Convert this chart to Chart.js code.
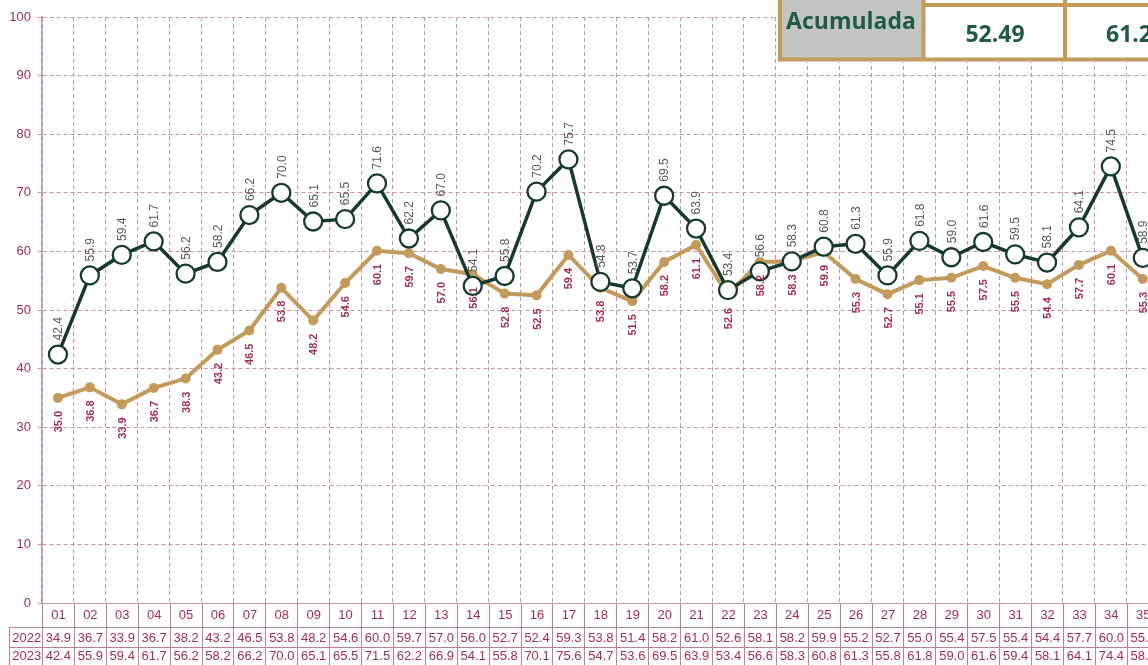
<!DOCTYPE html>
<html>
<head>
<meta charset="utf-8">
<script src="https://cdn.jsdelivr.net/npm/chart.js@4.4.1/dist/chart.umd.min.js"></script>
<style>
  html, body { margin: 0; padding: 0; background: #fff; overflow: hidden; }
  #wrap { width: 1148px; height: 665px; overflow: hidden; position: relative; }
  canvas { display: block; }
</style>
</head>
<body>
<div id="wrap"><canvas id="c" width="1170" height="665" style="width:1170px;height:665px"></canvas></div>
<script>
// ---- data ----
const categories = ["01","02","03","04","05","06","07","08","09","10","11","12","13","14","15","16","17","18","19","20","21","22","23","24","25","26","27","28","29","30","31","32","33","34","35"];
const yTicks = [0,10,20,30,40,50,60,70,80,90,100];
// values plotted (as shown by point labels)
const series2023 = [42.4,55.9,59.4,61.7,56.2,58.2,66.2,70.0,65.1,65.5,71.6,62.2,67.0,54.1,55.8,70.2,75.7,54.8,53.7,69.5,63.9,53.4,56.6,58.3,60.8,61.3,55.9,61.8,59.0,61.6,59.5,58.1,64.1,74.5,58.9];
const series2022 = [35.0,36.8,33.9,36.7,38.3,43.2,46.5,53.8,48.2,54.6,60.1,59.7,57.0,56.1,52.8,52.5,59.4,53.8,51.5,58.2,61.1,52.6,58.2,58.3,59.9,55.3,52.7,55.1,55.5,57.5,55.5,54.4,57.7,60.1,55.3];
// values in the data table below the chart
const table2022 = [34.9,36.7,33.9,36.7,38.2,43.2,46.5,53.8,48.2,54.6,60.0,59.7,57.0,56.0,52.7,52.4,59.3,53.8,51.4,58.2,61.0,52.6,58.1,58.2,59.9,55.2,52.7,55.0,55.4,57.5,55.4,54.4,57.7,60.0,55.3];
const table2023 = [42.4,55.9,59.4,61.7,56.2,58.2,66.2,70.0,65.1,65.5,71.5,62.2,66.9,54.1,55.8,70.1,75.6,54.7,53.6,69.5,63.9,53.4,56.6,58.3,60.8,61.3,55.8,61.8,59.0,61.6,59.4,58.1,64.1,74.4,58.9];
const tableRowLabels = ["2022","2023"];
const summaryLabel = "Acumulada";
const summaryValues = ["52.49","61.2"];

// ---- styles ----
const CRIMSON = '#a3304f';
const GRID = '#c9909f';
const TABLE_LINE = '#be8190';
const DARK = '#15392d';
const GOLD = '#c29a5c';
const GREEN_TXT = '#1f5a48';
const FONT = '"Liberation Sans", Arial, sans-serif';

const labelPlugin = {
  id: 'pointLabels',
  afterDatasetsDraw(chart) {
    const ctx = chart.ctx;
    chart.data.datasets.forEach((ds, i) => {
      const meta = chart.getDatasetMeta(i);
      const above = ds.labelPos === 'above';
      meta.data.forEach((pt, j) => {
        const v = ds.data[j];
        if (v == null) return;
        ctx.save();
        ctx.translate(pt.x + 1, pt.y + (above ? -14 : 13));
        ctx.rotate(-Math.PI / 2);
        ctx.textAlign = above ? 'left' : 'right';
        ctx.textBaseline = 'middle';
        ctx.font = above ? ('12px ' + FONT) : ('bold 11px ' + FONT);
        ctx.fillStyle = above ? '#595959' : CRIMSON;
        ctx.fillText(v.toFixed(1), 0, 0);
        ctx.restore();
      });
    });
  }
};

const tablePlugin = {
  id: 'dataTable',
  afterDraw(chart) {
    const ctx = chart.ctx;
    const xs = chart.scales.x;
    const area = chart.chartArea;
    const n = categories.length;
    const w = (area.right - area.left) / n;
    const top = area.bottom;          // 603
    const r1 = top + 24;              // 627
    const r2 = r1 + 20;               // 647
    const r3 = r2 + 20;               // 667
    const headLeft = 9.5;
    ctx.save();
    ctx.strokeStyle = TABLE_LINE;
    ctx.lineWidth = 1;
    ctx.beginPath();
    // horizontal lines
    ctx.moveTo(headLeft, r1 + 0.5); ctx.lineTo(area.right, r1 + 0.5);
    ctx.moveTo(headLeft, r2 + 0.5); ctx.lineTo(area.right, r2 + 0.5);
    ctx.moveTo(headLeft, r3 - 1.5); ctx.lineTo(area.right, r3 - 1.5);
    // header column left border
    ctx.moveTo(headLeft, r1); ctx.lineTo(headLeft, r3);
    // vertical lines at category boundaries
    for (let k = 0; k <= n; k++) {
      const x = Math.round(area.left + k * w) + 0.5;
      ctx.moveTo(x, top); ctx.lineTo(x, r3);
    }
    ctx.stroke();

    ctx.fillStyle = CRIMSON;
    ctx.textAlign = 'center';
    ctx.textBaseline = 'middle';
    ctx.font = '13px ' + FONT;
    ctx.fillText(tableRowLabels[0], (headLeft + area.left) / 2 + 1, (r1 + r2) / 2 + 1);
    ctx.fillText(tableRowLabels[1], (headLeft + area.left) / 2 + 1, (r2 + r3) / 2 - 1);
    for (let j = 0; j < n; j++) {
      const cx = xs.getPixelForValue(j) + 0.5;
      ctx.fillText(categories[j], cx, top + 12);
      ctx.fillText(table2022[j].toFixed(1), cx, (r1 + r2) / 2 + 1);
      ctx.fillText(table2023[j].toFixed(1), cx, (r2 + r3) / 2 - 1);
    }
    ctx.restore();

    // summary box at top right
    ctx.save();
    ctx.fillStyle = '#ffffff';
    ctx.fillRect(777, 0, 400, 62);
    ctx.fillStyle = '#c4c4c4';
    ctx.fillRect(780, 0, 143, 58);
    ctx.strokeStyle = GOLD;
    ctx.lineWidth = 4;
    ctx.beginPath();
    ctx.moveTo(780, 0); ctx.lineTo(780, 61.5);
    ctx.moveTo(923.5, 0); ctx.lineTo(923.5, 61.5);
    ctx.moveTo(1065, 0); ctx.lineTo(1065, 61.5);
    ctx.moveTo(778, 59.5); ctx.lineTo(1170, 59.5);
    ctx.moveTo(923.5, 5); ctx.lineTo(1170, 5);
    ctx.stroke();
    ctx.fillStyle = GREEN_TXT;
    ctx.textBaseline = 'middle';
    ctx.textAlign = 'center';
    ctx.font = 'bold 23px "Open Sans", ' + FONT;
    ctx.fillText(summaryLabel, 851, 22);
    ctx.font = 'bold 23px "Open Sans", ' + FONT;
    ctx.fillText(summaryValues[0], 995, 35);
    ctx.textAlign = 'left';
    ctx.fillText(summaryValues[1], 1106, 35);
    ctx.restore();
  }
};

new Chart(document.getElementById('c'), {
  type: 'line',
  data: {
    labels: categories,
    datasets: [
      {
        label: '2023',
        data: series2023,
        labelPos: 'above',
        borderColor: DARK,
        borderWidth: 3.5,
        pointRadius: 9,
        pointHoverRadius: 9,
        pointBorderWidth: 2.3,
        pointBorderColor: DARK,
        pointBackgroundColor: '#ffffff',
        tension: 0,
        clip: false
      },
      {
        label: '2022',
        data: series2022,
        labelPos: 'below',
        borderColor: GOLD,
        borderWidth: 4,
        pointRadius: 5,
        pointHoverRadius: 5,
        pointBorderWidth: 0,
        pointBackgroundColor: GOLD,
        tension: 0,
        clip: false
      }
    ]
  },
  options: {
    responsive: false,
    animation: false,
    devicePixelRatio: 1,
    layout: { padding: { top: 17, right: 8, left: 0, bottom: 0 } },
    plugins: { legend: { display: false }, tooltip: { enabled: false } },
    scales: {
      x: {
        offset: true,
        grid: { offset: true, color: GRID, lineWidth: 1, drawTicks: false },
        border: { display: true, color: GRID, width: 1, dash: [4, 3] },
        ticks: { display: false },
        afterFit(s) { s.height = 62; }
      },
      y: {
        min: 0, max: 100,
        afterBuildTicks(s) { s.ticks = yTicks.map(v => ({ value: v })); },
        grid: { color: GRID, lineWidth: 1, tickLength: 4, tickColor: GRID },
        border: { display: true, color: GRID, width: 1.5, dash: [4, 3] },
        ticks: { color: CRIMSON, font: { size: 13, family: FONT }, padding: 7 },
        afterFit(s) { s.width = 42; }
      }
    }
  },
  plugins: [labelPlugin, tablePlugin]
});
</script>
</body>
</html>
